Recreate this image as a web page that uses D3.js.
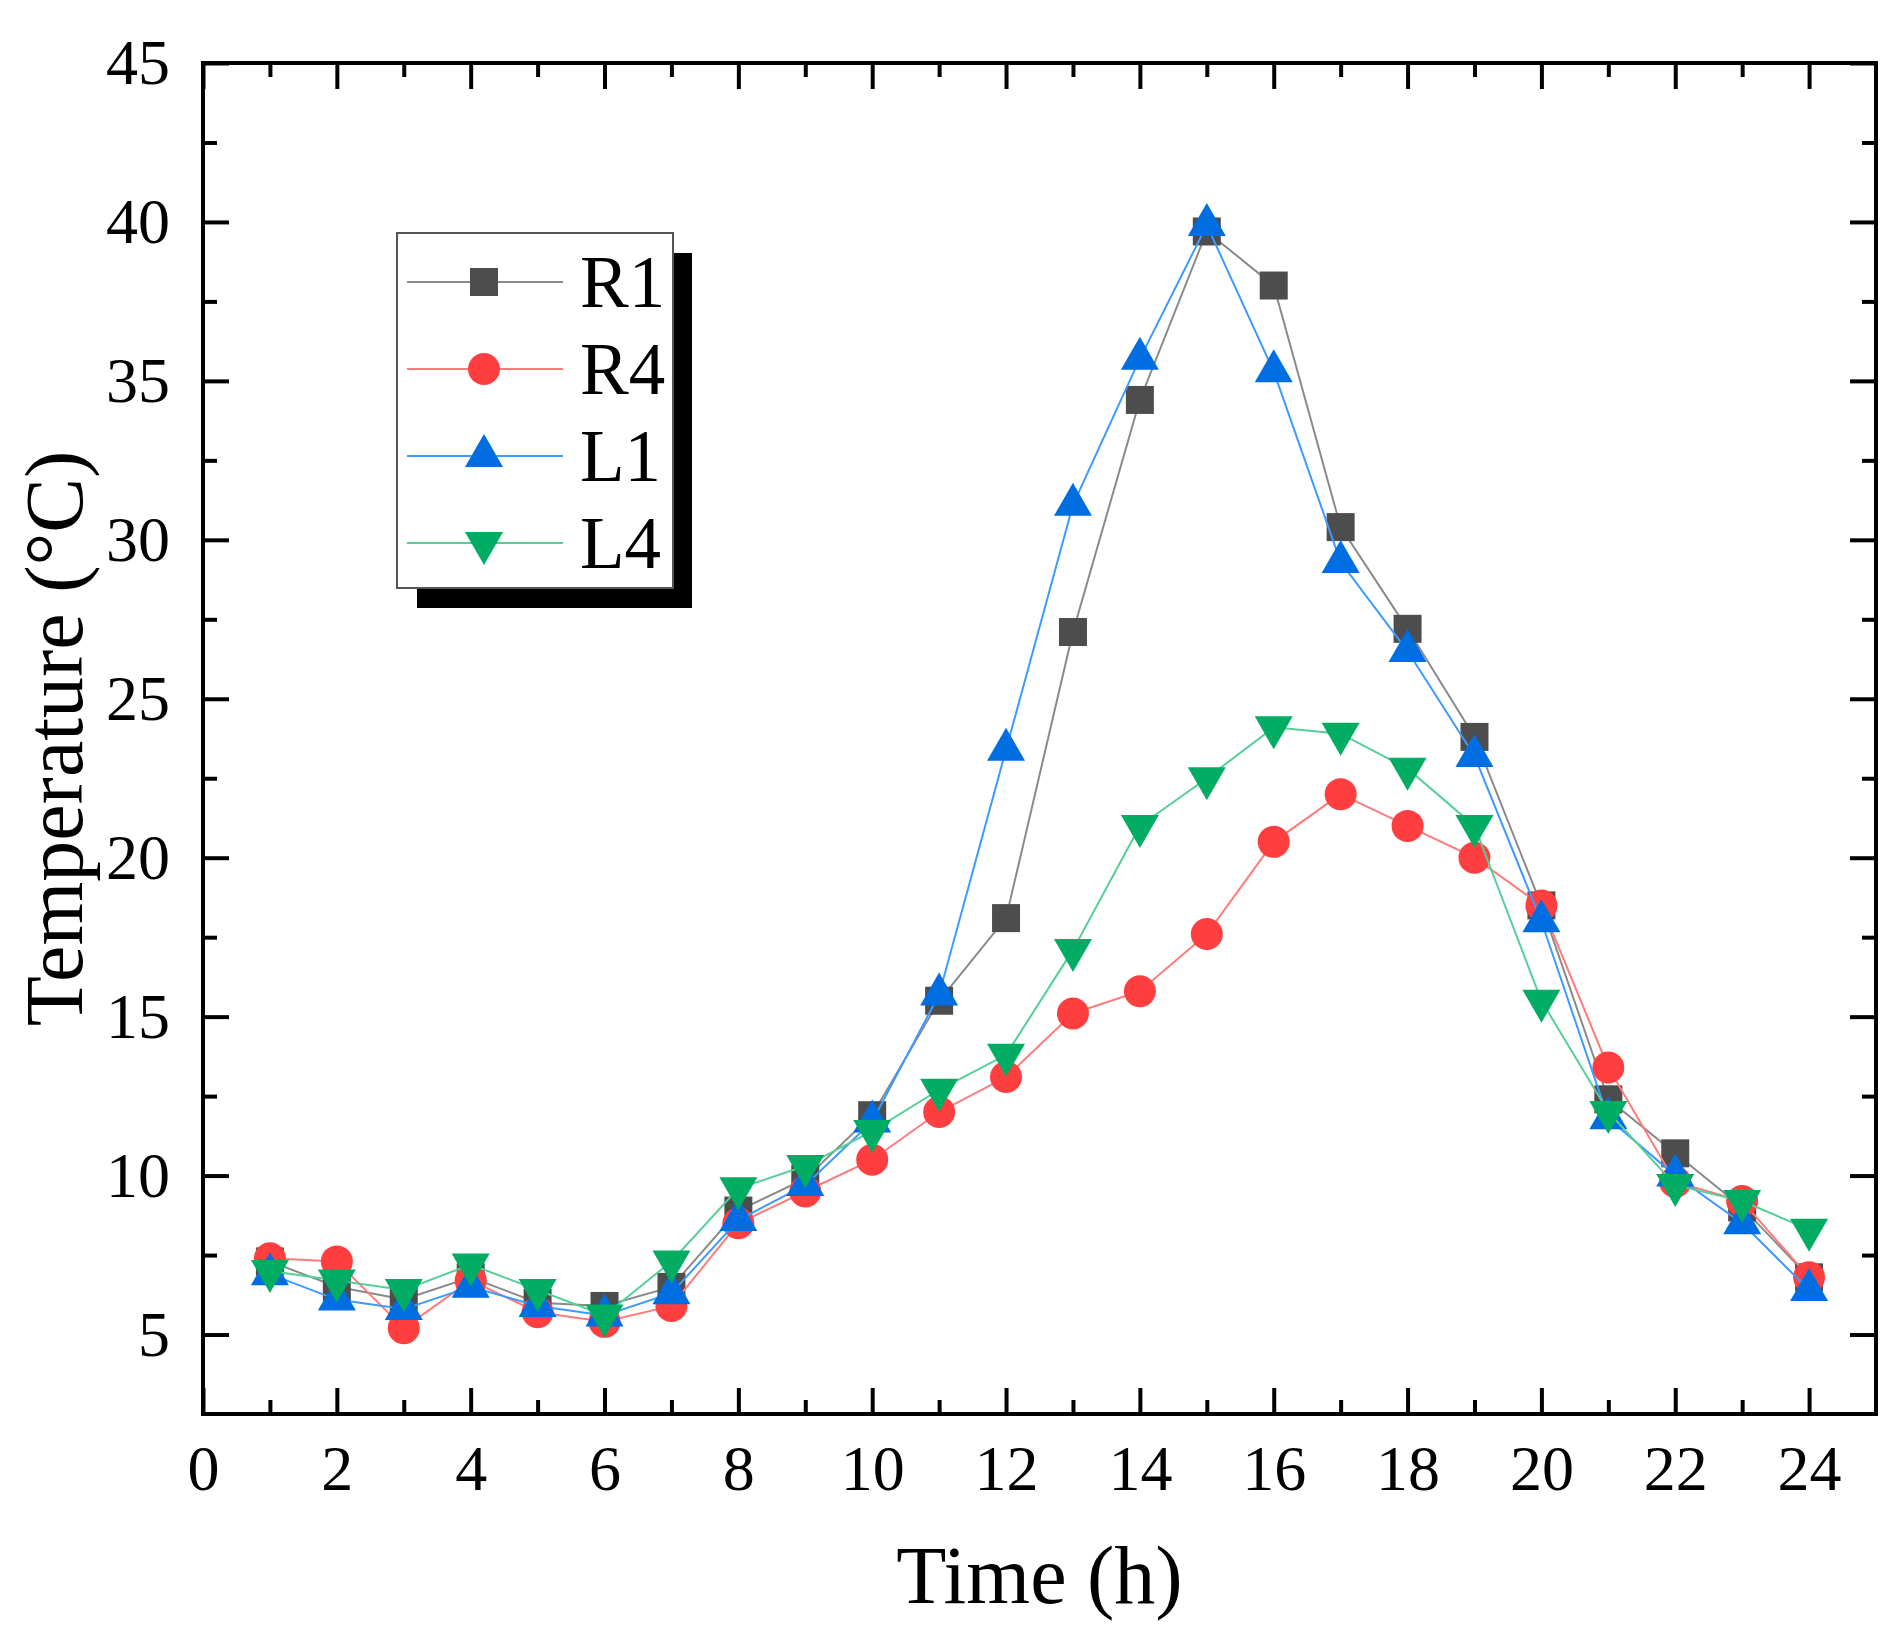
<!DOCTYPE html>
<html>
<head>
<meta charset="utf-8">
<script src="https://cdn.jsdelivr.net/npm/d3@7"></script>
<style>
  body { margin: 0; background: #fff; }
  svg text { font-family: "Liberation Serif", "Times New Roman", serif; fill: #000; }
</style>
</head>
<body>
<svg id="chart" width="1903" height="1641"></svg>
<script>
// data
var hours = [1, 2, 3, 4, 5, 6, 7, 8, 9, 10, 11, 12, 13, 14, 15, 16, 17, 18, 19, 20, 21, 22, 23, 24];
var r1 = [7.3, 6.5, 6.1, 6.8, 6.0, 5.9, 6.5, 8.9, 9.9, 11.9, 15.5, 18.1, 27.1, 34.4, 39.7, 38.0, 30.4, 27.2, 23.8, 18.5, 12.4, 10.7, 9.0, 6.8];
var r4 = [7.4, 7.3, 5.2, 6.7, 5.7, 5.4, 5.9, 8.5, 9.5, 10.5, 12.0, 13.1, 15.1, 15.8, 17.6, 20.5, 22.0, 21.0, 20.0, 18.5, 13.4, 9.8, 9.2, 6.8];
var l1 = [6.9, 6.1, 5.8, 6.5, 5.9, 5.6, 6.3, 8.6, 9.7, 11.7, 15.7, 23.4, 31.1, 35.7, 39.9, 35.3, 29.3, 26.5, 23.2, 18.0, 11.8, 10.0, 8.5, 6.4];
var l4 = [7.0, 6.7, 6.4, 7.2, 6.4, 5.6, 7.3, 9.6, 10.3, 11.4, 12.7, 13.8, 17.1, 21.0, 22.5, 24.1, 23.9, 22.8, 21.0, 15.5, 12.0, 9.7, 9.2, 8.3];

var seriesNames = ["R1", "R4", "L1", "L4"];
var xTicks = [0, 2, 4, 6, 8, 10, 12, 14, 16, 18, 20, 22, 24];
var xMinorTicks = [1, 3, 5, 7, 9, 11, 13, 15, 17, 19, 21, 23];
var yTicks = [5, 10, 15, 20, 25, 30, 35, 40, 45];
var yMinorTicks = [7.5, 12.5, 17.5, 22.5, 27.5, 32.5, 37.5, 42.5];

var xTitle = "Time (h)";
var yTitle = "Temperature (\u00B0C)";

// styles
var styles = {
	R1: {line: "#8a8a8a", fill: "#4d4d4d", shape: "square"},
	R4: {line: "#ff7b7b", fill: "#ff3f3f", shape: "circle"},
	L1: {line: "#3d9bff", fill: "#006ee0", shape: "up"},
	L4: {line: "#55cf98", fill: "#00ad63", shape: "down"}
};
var seriesValues = {R1: r1, R4: r4, L1: l1, L4: l4};

const margin = {top: 63, left: 203, right: 1876, bottom: 1414};

var svg = d3.select("#chart");

var x = d3.scaleLinear().domain([0, 25]).range([margin.left, margin.right]);
var y = d3.scaleLinear().domain([2.5, 45]).range([margin.bottom, margin.top]);

function markerPath(shape) {
	if (shape === "square") return "M-14,-14H14V14H-14Z";
	if (shape === "circle") return "M16,0A16,16 0 1,1 -16,0A16,16 0 1,1 16,0Z";
	if (shape === "up") return "M0,-22L19,11L-19,11Z";
	return "M0,22L19,-11L-19,-11Z";
}

// axes (ticks point inward, mirrored on top and right)
function styleAxis(g) {
	g.select(".domain").remove();
	g.selectAll(".tick line").attr("stroke", "#000").attr("stroke-width", 4);
	g.selectAll("text").attr("font-size", 64).attr("fill", "#000");
}

svg.append("g")
	.attr("transform", "translate(0," + margin.bottom + ")")
	.call(d3.axisBottom(x).tickValues(xTicks).tickSize(-26).tickPadding(31).tickFormat(d3.format("d")))
	.call(styleAxis);
svg.append("g")
	.attr("transform", "translate(0," + margin.bottom + ")")
	.call(d3.axisBottom(x).tickValues(xMinorTicks).tickSize(-14).tickFormat(""))
	.call(styleAxis);
svg.append("g")
	.attr("transform", "translate(0," + margin.top + ")")
	.call(d3.axisTop(x).tickValues(xTicks).tickSize(-26).tickFormat(""))
	.call(styleAxis);
svg.append("g")
	.attr("transform", "translate(0," + margin.top + ")")
	.call(d3.axisTop(x).tickValues(xMinorTicks).tickSize(-14).tickFormat(""))
	.call(styleAxis);

svg.append("g")
	.attr("transform", "translate(" + margin.left + ",0)")
	.call(d3.axisLeft(y).tickValues(yTicks).tickSize(-26).tickPadding(33).tickFormat(d3.format("d")))
	.call(styleAxis);
svg.append("g")
	.attr("transform", "translate(" + margin.left + ",0)")
	.call(d3.axisLeft(y).tickValues(yMinorTicks).tickSize(-14).tickFormat(""))
	.call(styleAxis);
svg.append("g")
	.attr("transform", "translate(" + margin.right + ",0)")
	.call(d3.axisRight(y).tickValues(yTicks).tickSize(-26).tickFormat(""))
	.call(styleAxis);
svg.append("g")
	.attr("transform", "translate(" + margin.right + ",0)")
	.call(d3.axisRight(y).tickValues(yMinorTicks).tickSize(-14).tickFormat(""))
	.call(styleAxis);

// frame
svg.append("rect")
	.attr("x", margin.left).attr("y", margin.top)
	.attr("width", margin.right - margin.left)
	.attr("height", margin.bottom - margin.top)
	.attr("fill", "none").attr("stroke", "#000").attr("stroke-width", 4);

// axis titles
svg.append("text")
	.attr("x", (margin.left + margin.right) / 2)
	.attr("y", 1603)
	.attr("text-anchor", "middle")
	.attr("font-size", 82)
	.text(xTitle);
svg.append("text")
	.attr("transform", "translate(82," + ((margin.top + margin.bottom) / 2) + ") rotate(-90)")
	.attr("text-anchor", "middle")
	.attr("font-size", 82)
	.text(yTitle);

// series
var line = d3.line()
	.x(function(d, i) { return x(hours[i]); })
	.y(function(d) { return y(d); });

seriesNames.forEach(function(name) {
	var st = styles[name];
	var vals = seriesValues[name];
	var g = svg.append("g").attr("class", "series-" + name);
	g.append("path")
		.datum(vals)
		.attr("fill", "none")
		.attr("stroke", st.line)
		.attr("stroke-width", 2)
		.attr("d", line);
	g.selectAll(".marker")
		.data(vals)
		.enter()
		.append("path")
			.attr("class", "marker")
			.attr("transform", function(d, i) { return "translate(" + x(hours[i]) + "," + y(d) + ")"; })
			.attr("d", markerPath(st.shape))
			.attr("fill", st.fill);
});

// legend
var legend = svg.append("g");
legend.append("rect")
	.attr("x", 417).attr("y", 253).attr("width", 275).attr("height", 355)
	.attr("fill", "#000");
legend.append("rect")
	.attr("x", 397).attr("y", 233).attr("width", 276).attr("height", 355)
	.attr("fill", "#fff").attr("stroke", "#555").attr("stroke-width", 2);

seriesNames.forEach(function(name, i) {
	var st = styles[name];
	var cy = 282 + i * 87;
	legend.append("line")
		.attr("x1", 407).attr("x2", 563)
		.attr("y1", cy).attr("y2", cy)
		.attr("stroke", st.line).attr("stroke-width", 2);
	legend.append("path")
		.attr("transform", "translate(484," + cy + ")")
		.attr("d", markerPath(st.shape))
		.attr("fill", st.fill);
	legend.append("text")
		.attr("x", 580)
		.attr("y", cy + 25)
		.attr("font-size", 73)
		.text(name);
});
</script>
</body>
</html>
